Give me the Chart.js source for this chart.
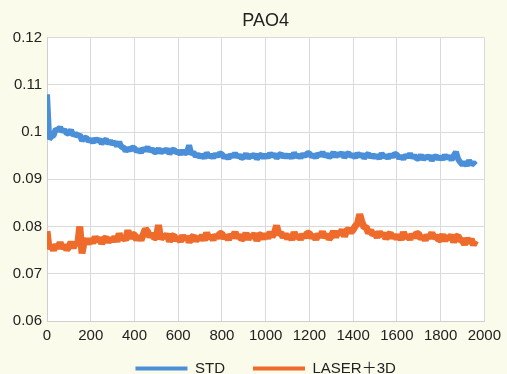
<!DOCTYPE html>
<html>
<head>
<meta charset="utf-8">
<script src="https://cdn.jsdelivr.net/npm/chart.js@4.4.1/dist/chart.umd.min.js"></script>
<style>
    html, body { margin: 0; padding: 0; background: #fafbea; overflow: hidden; width: 507px; height: 374px; }
    #wrap { position: relative; width: 507px; height: 398px; }
</style>
</head>
<body>
<div id="wrap"><canvas id="frictionChart" width="507" height="398"></canvas></div>
<script>
// sampling step of the readings along x (every 10 units, 0..1960)
const STEP = 10;
const seriesNames = ['STD', 'LASER\uFF0B3D'];
const xTicks = [0, 200, 400, 600, 800, 1000, 1200, 1400, 1600, 1800, 2000];
const yTicks = [0.06, 0.07, 0.08, 0.09, 0.1, 0.11, 0.12];

const stdValues = [
    0.1080, 0.0985, 0.0991, 0.0993, 0.1006, 0.1004, 0.1010, 0.1001, 0.1005, 0.0997,
    0.0998, 0.1004, 0.0993, 0.0997, 0.0992, 0.0994, 0.0982, 0.0987, 0.0988, 0.0981,
    0.0984, 0.0978, 0.0986, 0.0981, 0.0984, 0.0976, 0.0981, 0.0984, 0.0976, 0.0981,
    0.0975, 0.0979, 0.0970, 0.0979, 0.0968, 0.0968, 0.0960, 0.0965, 0.0962, 0.0967,
    0.0966, 0.0959, 0.0963, 0.0957, 0.0965, 0.0961, 0.0968, 0.0960, 0.0964, 0.0958,
    0.0958, 0.0965, 0.0956, 0.0962, 0.0959, 0.0964, 0.0954, 0.0961, 0.0963, 0.0957,
    0.0959, 0.0953, 0.0961, 0.0955, 0.0957, 0.0972, 0.0953, 0.0957, 0.0949, 0.0953,
    0.0947, 0.0952, 0.0945, 0.0956, 0.0948, 0.0951, 0.0946, 0.0953, 0.0949, 0.0955,
    0.0953, 0.0946, 0.0950, 0.0944, 0.0952, 0.0948, 0.0955, 0.0947, 0.0951, 0.0945,
    0.0947, 0.0954, 0.0945, 0.0951, 0.0948, 0.0953, 0.0943, 0.0950, 0.0952, 0.0946,
    0.0952, 0.0946, 0.0955, 0.0949, 0.0953, 0.0945, 0.0951, 0.0954, 0.0947, 0.0952,
    0.0947, 0.0952, 0.0945, 0.0956, 0.0948, 0.0951, 0.0946, 0.0953, 0.0949, 0.0955,
    0.0955, 0.0948, 0.0952, 0.0946, 0.0954, 0.0950, 0.0957, 0.0949, 0.0953, 0.0947,
    0.0950, 0.0957, 0.0948, 0.0954, 0.0951, 0.0956, 0.0946, 0.0953, 0.0955, 0.0949,
    0.0952, 0.0946, 0.0955, 0.0949, 0.0953, 0.0945, 0.0951, 0.0954, 0.0947, 0.0952,
    0.0946, 0.0951, 0.0944, 0.0955, 0.0947, 0.0950, 0.0945, 0.0952, 0.0948, 0.0954,
    0.0952, 0.0945, 0.0949, 0.0943, 0.0951, 0.0947, 0.0954, 0.0946, 0.0950, 0.0944,
    0.0944, 0.0951, 0.0942, 0.0948, 0.0945, 0.0950, 0.0940, 0.0947, 0.0949, 0.0943,
    0.0948, 0.0942, 0.0951, 0.0945, 0.0949, 0.0941, 0.0950, 0.0958, 0.0943, 0.0936,
    0.0931, 0.0936, 0.0929, 0.0940, 0.0932, 0.0935, 0.0930
];

const laserValues = [
    0.0790, 0.0753, 0.0759, 0.0750, 0.0761, 0.0755, 0.0766, 0.0754, 0.0760, 0.0751,
    0.0757, 0.0767, 0.0755, 0.0765, 0.0761, 0.0800, 0.0743, 0.0768, 0.0772, 0.0763,
    0.0774, 0.0765, 0.0778, 0.0769, 0.0776, 0.0764, 0.0773, 0.0777, 0.0767, 0.0774,
    0.0770, 0.0778, 0.0768, 0.0785, 0.0773, 0.0778, 0.0771, 0.0792, 0.0775, 0.0784,
    0.0782, 0.0772, 0.0780, 0.0771, 0.0783, 0.0795, 0.0789, 0.0778, 0.0785, 0.0776,
    0.0777, 0.0803, 0.0773, 0.0782, 0.0777, 0.0784, 0.0768, 0.0779, 0.0781, 0.0771,
    0.0777, 0.0768, 0.0781, 0.0772, 0.0779, 0.0767, 0.0776, 0.0780, 0.0770, 0.0777,
    0.0773, 0.0781, 0.0771, 0.0787, 0.0775, 0.0780, 0.0772, 0.0782, 0.0776, 0.0785,
    0.0785, 0.0775, 0.0781, 0.0772, 0.0783, 0.0777, 0.0788, 0.0776, 0.0782, 0.0773,
    0.0776, 0.0786, 0.0773, 0.0782, 0.0777, 0.0785, 0.0770, 0.0781, 0.0783, 0.0774,
    0.0784, 0.0775, 0.0788, 0.0779, 0.0786, 0.0802, 0.0783, 0.0787, 0.0777, 0.0784,
    0.0774, 0.0782, 0.0772, 0.0788, 0.0776, 0.0781, 0.0773, 0.0783, 0.0777, 0.0786,
    0.0786, 0.0776, 0.0782, 0.0773, 0.0784, 0.0778, 0.0789, 0.0777, 0.0783, 0.0774,
    0.0779, 0.0790, 0.0778, 0.0788, 0.0784, 0.0793, 0.0779, 0.0791, 0.0794, 0.0788,
    0.0793, 0.0801, 0.0806, 0.0826, 0.0810, 0.0798, 0.0799, 0.0786, 0.0792, 0.0783,
    0.0786, 0.0777, 0.0789, 0.0780, 0.0786, 0.0774, 0.0782, 0.0786, 0.0776, 0.0782,
    0.0774, 0.0782, 0.0772, 0.0788, 0.0776, 0.0781, 0.0773, 0.0783, 0.0777, 0.0786,
    0.0784, 0.0774, 0.0780, 0.0771, 0.0782, 0.0776, 0.0787, 0.0775, 0.0781, 0.0772,
    0.0773, 0.0783, 0.0770, 0.0779, 0.0774, 0.0782, 0.0767, 0.0778, 0.0780, 0.0771,
    0.0771, 0.0762, 0.0775, 0.0766, 0.0773, 0.0761, 0.0770
];

const colors = ['#4a8fd8', '#ef6b2b'];
const lineWidths = [6, 7];
const FONT = "'Liberation Sans', Arial, 'Noto Sans CJK SC', sans-serif";

document.addEventListener('DOMContentLoaded', () => {
    renderChart();
});

function toPoints(values) {
    return values.map((v, i) => ({ x: i * STEP, y: v }));
}

// white fill behind the plot area only
const plotBackground = {
    id: 'plotBackground',
    beforeDraw(chart) {
        const { ctx, chartArea } = chart;
        ctx.save();
        ctx.fillStyle = '#ffffff';
        ctx.fillRect(chartArea.left, chartArea.top, chartArea.right - chartArea.left, chartArea.bottom - chartArea.top);
        ctx.restore();
    }
};

// center title and legend over the plot area and pull the legend up a bit
const centerOnPlot = {
    id: 'centerOnPlot',
    afterLayout(chart) {
        const area = chart.chartArea;
        [chart.titleBlock, chart.legend].forEach(box => {
            if (!box) return;
            box.left = area.left;
            box.right = area.right;
        });
        if (chart.legend) {
            chart.legend.top -= 12;
            chart.legend.bottom -= 12;
        }
    }
};

function makeDataset(i, values) {
    return {
        label: seriesNames[i],
        data: toPoints(values),
        borderColor: colors[i],
        backgroundColor: colors[i],
        borderWidth: lineWidths[i],
        borderJoinStyle: 'bevel',
        pointRadius: 0,
        tension: 0
    };
}

function renderChart() {
    const ctx = document.getElementById('frictionChart').getContext('2d');
    new Chart(ctx, {
        type: 'line',
        data: {
            datasets: [makeDataset(0, stdValues), makeDataset(1, laserValues)]
        },
        options: {
            responsive: false,
            animation: false,
            layout: { padding: { left: 0, right: 15, top: 0, bottom: 0 } },
            plugins: {
                title: {
                    display: true,
                    text: 'PAO4',
                    color: '#222',
                    font: { family: FONT, size: 18, weight: 'normal' },
                    padding: { top: 10, bottom: 6 }
                },
                legend: {
                    position: 'bottom',
                    labels: {
                        color: '#222',
                        font: { family: FONT, size: 15 },
                        usePointStyle: true,
                        pointStyle: 'line',
                        pointStyleWidth: 52,
                        padding: 28,
                        generateLabels(chart) {
                            const items = Chart.defaults.plugins.legend.labels.generateLabels(chart);
                            items.forEach(item => { item.lineWidth = 4; item.pointStyle = 'line'; });
                            return items;
                        }
                    }
                },
                tooltip: { enabled: false }
            },
            scales: {
                x: {
                    type: 'linear',
                    min: 0,
                    max: 2000,
                    afterBuildTicks(axis) { axis.ticks = xTicks.map(v => ({ value: v })); },
                    afterFit(axis) { axis.height = 24; },
                    grid: { color: '#dadada', drawTicks: false },
                    border: { color: '#cfcfcf' },
                    ticks: {
                        color: '#222',
                        padding: 6,
                        font: { family: FONT, size: 15 },
                        maxRotation: 0,
                        callback: value => String(value)
                    }
                },
                y: {
                    min: 0.06,
                    max: 0.12,
                    afterBuildTicks(axis) { axis.ticks = yTicks.map(v => ({ value: v })); },
                    afterFit(axis) { axis.width = 47; },
                    grid: { color: '#dadada', drawTicks: false },
                    border: { color: '#cfcfcf' },
                    ticks: {
                        color: '#222',
                        padding: 5,
                        font: { family: FONT, size: 15 },
                        callback: value => String(Number(value.toFixed(2)))
                    }
                }
            }
        },
        plugins: [plotBackground, centerOnPlot]
    });
}
</script>
</body>
</html>
